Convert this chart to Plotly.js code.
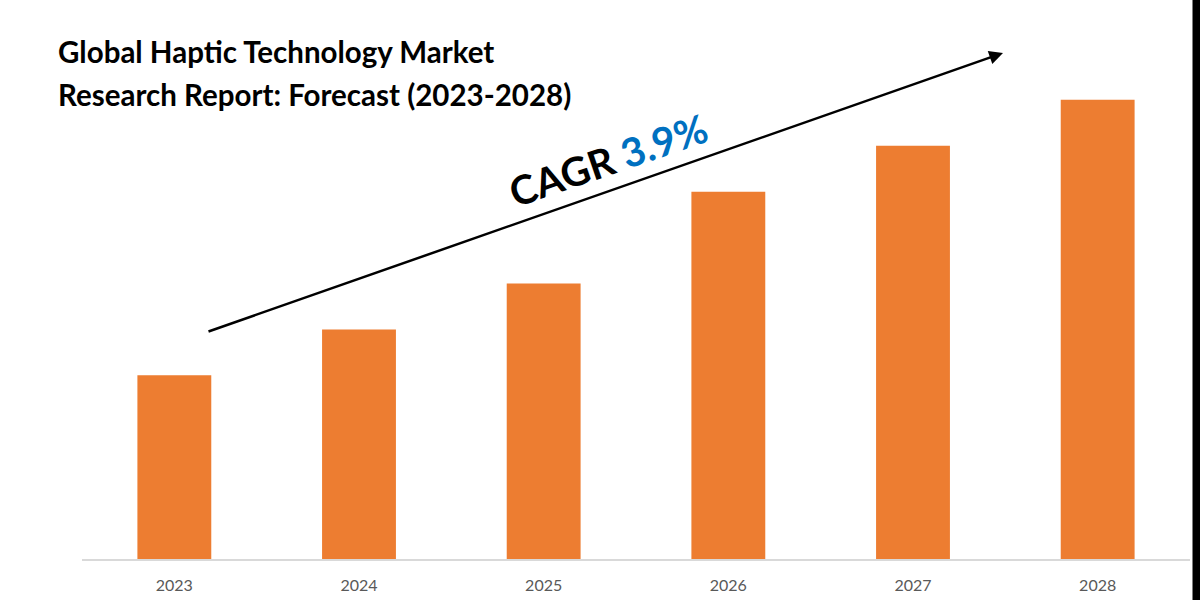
<!DOCTYPE html>
<html>
<head>
<meta charset="utf-8">
<script src="https://cdn.plot.ly/plotly-3.0.1.min.js"></script>
<style>
html,body{margin:0;padding:0;background:#fff;}
#chart{width:1200px;height:600px;}
</style>
</head>
<body>
<div id="chart"></div>
<script>
const years = ['2023', '2024', '2025', '2026', '2027', '2028'];
const marketSize = [4, 5, 6, 8, 9, 10];
const titleLines = ['Global Haptic Technology Market', 'Research Report: Forecast (2023-2028)'];
const cagrLabel = 'CAGR';
const cagrValue = '3.9%';

const L = 82, R = 1190, T = 8, B = 559;
const W = R - L, H = B - T;
const px = x => (x - L) / W;
const py = y => (B - y) / H;

const trace = {
  type: 'bar',
  x: years,
  y: marketSize,
  marker: {color: '#ED7D31'},
  hoverinfo: 'x+y'
};

const titleFont = {family: 'Lato, "Open Sans", sans-serif', size: 29.5, color: '#000000'};

const layout = {
  width: 1200, height: 600,
  margin: {l: L, r: 1200 - R, t: T, b: 600 - B},
  paper_bgcolor: '#ffffff',
  plot_bgcolor: '#ffffff',
  bargap: 0.6,
  showlegend: false,
  xaxis: {
    type: 'category',
    showline: true, linecolor: '#d9d9d9', linewidth: 1.5,
    showgrid: false, zeroline: false, ticks: '',
    tickfont: {family: 'Lato, "Open Sans", sans-serif', size: 16, color: '#595959'},
    ticklabelstandoff: 11
  },
  yaxis: {range: [0, 12], visible: false, showgrid: false, zeroline: false},
  annotations: [
    {
      xref: 'paper', yref: 'paper', x: px(56), y: py(52),
      xanchor: 'left', yanchor: 'middle', align: 'left', showarrow: false,
      text: '<b>' + titleLines[0] + '</b>', font: titleFont
    },
    {
      xref: 'paper', yref: 'paper', x: px(56), y: py(94),
      xanchor: 'left', yanchor: 'middle', align: 'left', showarrow: false,
      text: '<b>' + titleLines[1] + '</b>', font: titleFont
    },
    {
      xref: 'paper', yref: 'paper', x: px(1003), y: py(53),
      ax: 207 - 1003, ay: 332 - 53, axref: 'pixel', ayref: 'pixel',
      text: '', showarrow: true, arrowhead: 2, arrowsize: 1.1, arrowwidth: 2.5,
      arrowcolor: '#000000', standoff: 0, startstandoff: 0
    },
    {
      xref: 'paper', yref: 'paper', x: px(608), y: py(160),
      xanchor: 'center', yanchor: 'middle', showarrow: false, textangle: -19,
      text: '<b>' + cagrLabel + ' <span style="color:#0070C0">' + cagrValue + '</span></b>',
      font: {family: 'Lato, "Open Sans", sans-serif', size: 40, color: '#000000'}
    }
  ],
  shapes: [
    {type: 'rect', xref: 'paper', yref: 'paper', x0: px(1192.5), x1: px(1201), y0: py(601), y1: py(-1),
     fillcolor: '#000000', line: {width: 0}, layer: 'above'}
  ]
};

Plotly.newPlot('chart', [trace], layout, {displayModeBar: false, staticPlot: true});
</script>
</body>
</html>
